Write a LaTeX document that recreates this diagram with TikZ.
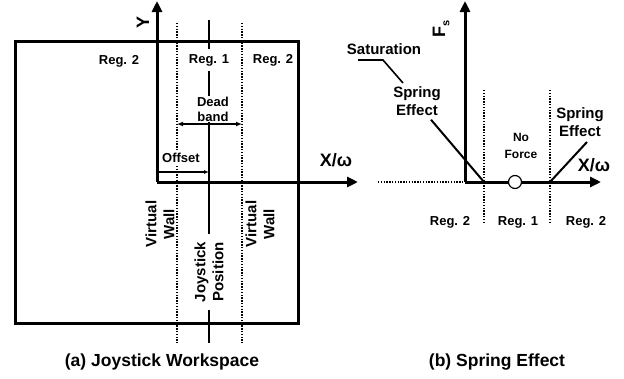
\documentclass[tikz,border=0pt]{standalone}
\usepackage{fontspec}
\setmainfont{Liberation Sans}
\usetikzlibrary{arrows.meta}

\begin{document}
\begin{tikzpicture}[
    x=1pt, y=-1pt,
    lbl/.style={font=\bfseries\fontsize{13}{15}\selectfont, inner sep=1pt, align=center},
    biglbl/.style={font=\bfseries\fontsize{15}{18}\selectfont, inner sep=1pt, align=center},
    axlbl/.style={font=\bfseries\fontsize{18}{20}\selectfont, inner sep=1pt},
    caption/.style={font=\bfseries\fontsize{17.5}{20}\selectfont, inner sep=1pt},
    frame/.style={line width=3pt},
    axis/.style={line width=3pt, -{Triangle[length=11pt,width=10pt]}},
    wall/.style={line width=1.6pt, dash pattern=on 1.4pt off 1.4pt},
    thinline/.style={line width=1.2pt},
    spring/.style={line width=2pt},
    dim/.style={line width=1.4pt, {Latex[length=6pt,width=5pt]}-{Latex[length=6pt,width=5pt]}}
]
\useasboundingbox (0,0) rectangle (624,378);

% (a) workspace
\draw[frame] (15,41) rectangle (298,323);
\coordinate (o1) at (157,182);
\coordinate (ytop) at (157,1);
\coordinate (xend1) at (358,182);
\draw[wall] (177,23) -- (177,343);
\draw[wall] (242,23) -- (242,343);
\draw[thinline] (209,20) -- (209,343);

\node[lbl] (reg2a) at (119,61) {Reg. 2};
\node[lbl, fill=white, inner ysep=5pt] (reg1a) at (209,60) {Reg. 1};
\node[lbl, fill=white, inner ysep=5pt, inner xsep=2pt] (reg2b) at (273,60) {Reg. 2};
\node[lbl, fill=white, inner sep=0.5pt] (dead) at (213,109) {Dead\\band};
\node[lbl, fill=white, inner sep=3pt] (offset) at (181,158) {Offset};
\node[biglbl, rotate=90] (wallL) at (160,224) {Virtual\\Wall};
\node[biglbl, rotate=90] (wallR) at (260,224) {Virtual\\Wall};
\node[biglbl, rotate=90, fill=white, inner xsep=8pt] (joy) at (209,272) {Joystick\\Position};
\node[axlbl, rotate=90] (ylbl) at (143,22) {Y};
\node[axlbl] (xlbl1) at (336,160) {X/ω};

\coordinate (dbL) at (177,124);
\coordinate (dbR) at (242,124);
\draw[dim] (dbL) -- (dbR);
\coordinate (offL) at (157,172);
\coordinate (offR) at (209,172);
\draw[thinline, -{Latex[length=5pt,width=4pt]}] (offL) -- (offR);

\draw[axis] (o1) -- (ytop);
\draw[axis] (o1) -- (xend1);

\node[caption] (capa) at (162,362) {(a) Joystick Workspace};

% (b) spring effect
\coordinate (o2) at (465,182);
\coordinate (ftop) at (465,1);
\coordinate (xend2) at (601,182);
\coordinate (dz1) at (484,182);
\coordinate (dz2) at (550,182);
\draw[wall] (378,182) -- (o2);
\draw[wall] (484,90) -- (484,222);
\draw[wall] (550,90) -- (550,222);

\node[biglbl] (sat) at (384,49) {Saturation};
\node[biglbl] (springL) at (417,101) {Spring\\Effect};
\node[biglbl] (springR) at (580,122) {Spring\\Effect};
\node[lbl, font=\bfseries\fontsize{12}{17}\selectfont] (noforce) at (521,146) {No\\Force};
\node[axlbl, rotate=90] (fs) at (441,29) {F\raisebox{-0.45ex}{\fontsize{11}{11}\selectfont s}};
\node[axlbl] (xlbl2) at (594,165) {X/ω};
\node[lbl, fill=white] (reg2c) at (450,222) {Reg. 2};
\node[lbl, fill=white] (reg1b) at (518,222) {Reg. 1};
\node[lbl, fill=white] (reg2d) at (586,222) {Reg. 2};

\coordinate (satA) at (358,60);
\coordinate (satB) at (383,60);
\coordinate (satC) at (403,83);
\draw[line width=1.6pt] (satA) -- (satB) -- (satC);

\draw[axis] (o2) -- (ftop);
\draw[axis] (o2) -- (xend2);
\draw[spring] (springL.south) ++(14,3) coordinate (sl) -- (dz1);
\draw[spring] (dz2) -- (587,142) coordinate (sr);
\node[circle, draw, fill=white, line width=1.2pt, minimum size=13pt, inner sep=0pt] (pos) at (515,182) {};

\node[caption] (capb) at (497,362) {(b) Spring Effect};
\end{tikzpicture}
\end{document}
